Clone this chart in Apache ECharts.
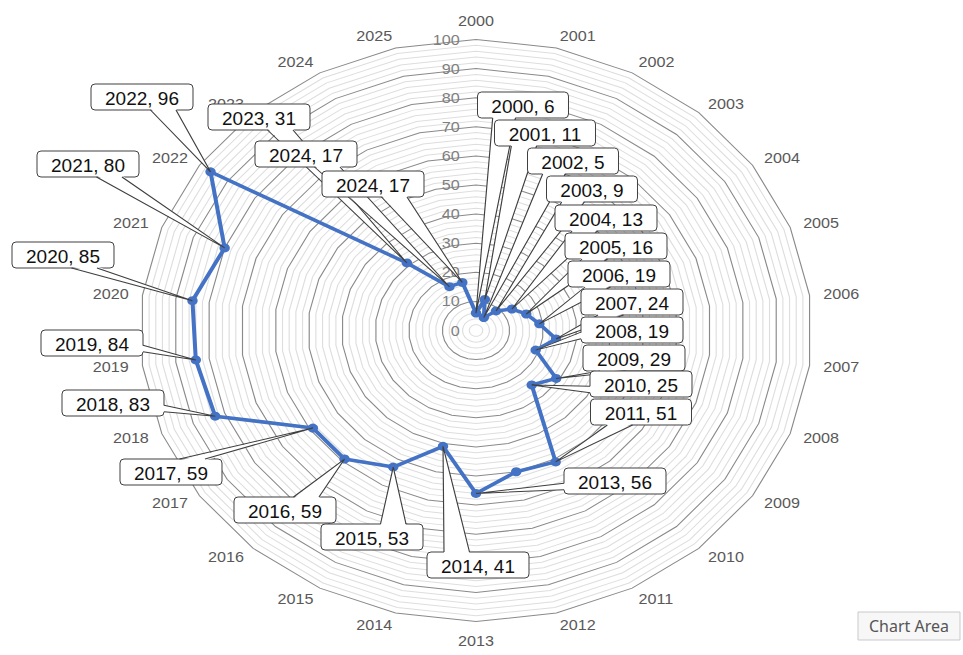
<!DOCTYPE html>
<html>
<head>
<meta charset="utf-8">
<script src="https://cdn.jsdelivr.net/npm/echarts@6/dist/echarts.min.js"></script>
<style>
  html, body { margin: 0; padding: 0; background: #fff; overflow: hidden; }
  #chart { position: absolute; left: 0; top: 0; height: 655px; transform-origin: 0 0; }
</style>
</head>
<body>
<div id="chart"></div>
<script>
// Category axis (one spoke per year, clockwise from the top)
const years = ['2000','2001','2002','2003','2004','2005','2006','2007','2008','2009',
               '2010','2011','2012','2013','2014','2015','2016','2017','2018','2019',
               '2020','2021','2022','2023','2024','2025'];
// Series values
const values = [6, 11, 5, 9, 13, 16, 19, 24, 19, 29, 25, 51, 50, 56, 41, 53, 59, 59, 83, 84, 85, 80, 96, 31, 17, 17];
// Year text printed in each callout (null = no callout)
const calloutYears = ['2000','2001','2002','2003','2004','2005','2006','2007','2008','2009',
                      '2010','2011', null,'2013','2014','2015','2016','2017','2018','2019',
                      '2020','2021','2022','2023','2024','2024'];
// Value axis range
const axisMin = 0, axisMax = 100, majorStep = 10, minorStep = 2;

// Callout box centres on the page
const calloutAt = [
  [523,105],[545,133],[573,161],[592,189],[606,218],[616,246],[619,274],[632,302],
  [632,330],[634,358],[641,384],[641,412], null,[615,481],[478,565],[372,537],
  [285,510],[171,472],[113,403],[92,343],[63,255],[88,164],[142,97],[259,117],
  [306,154],[373,184]
];

// The plot is drawn wider than tall
const S = 1.1547;
const el = document.getElementById('chart');
el.style.width = (963 / S) + 'px';
el.style.transform = 'scaleX(' + S + ')';

const FONT = '"Liberation Sans", Arial, sans-serif';
const BLUE = '#4472C4';
const centre = [476 / S, 330.5];
const R = 291;

// ECharts lays radar indicators counter-clockwise; reverse so years run clockwise
const order = [0].concat(years.slice(1).map((_, k) => years.length - 1 - k));

const chart = echarts.init(el, null, { renderer: 'svg' });

const ringColors = ['#8a8a8a'];
for (let k = 1; k < majorStep / minorStep; k++) ringColors.push('#dedede');

chart.setOption({
  animation: false,
  backgroundColor: '#ffffff',
  radar: [
    {
      indicator: order.map(i => ({ name: years[i], min: axisMin, max: axisMax })),
      center: centre,
      radius: R,
      startAngle: 90,
      shape: 'polygon',
      splitNumber: (axisMax - axisMin) / minorStep,
      nameGap: 12,
      axisName: { color: '#595959', fontSize: 14, fontFamily: FONT },
      axisLine: { show: false },
      axisTick: { show: false },
      axisLabel: { show: false },
      splitArea: { show: false },
      splitLine: { lineStyle: { color: ringColors, width: 1 } }
    },
    {
      indicator: [{ name: '', min: axisMin, max: axisMax }],
      center: centre,
      radius: R,
      startAngle: 90,
      splitNumber: (axisMax - axisMin) / majorStep,
      axisName: { show: false },
      axisLine: { show: false },
      axisTick: { show: false },
      splitArea: { show: false },
      splitLine: { show: false },
      axisLabel: { show: true, color: '#7f7f7f', fontSize: 14, fontFamily: FONT, margin: 14 }
    }
  ],
  series: [{
    type: 'radar',
    radarIndex: 0,
    symbol: 'circle',
    symbolSize: 9,
    lineStyle: { color: BLUE, width: 3.5 },
    itemStyle: { color: BLUE },
    data: [{ value: order.map(i => values[i]) }]
  }]
});

// Callouts with wedge pointers to each marker; each later callout sits over earlier ones
const meas = document.createElement('canvas').getContext('2d');
const CFONT = '19px ' + FONT;
meas.font = CFONT;
const pts = chart.getModel().getSeriesByIndex(0).getData().getItemLayout(0);
const tips = [];
order.forEach((yi, k) => { tips[yi] = [pts[k][0] * S, pts[k][1]]; });

const elements = [];
let layer = 100;
years.forEach((y, i) => {
  if (!calloutYears[i] || !calloutAt[i]) return;
  const txt = calloutYears[i] + ', ' + values[i];
  const w = Math.round(meas.measureText(txt).width) + 28, h = 26;
  const [bx, by] = calloutAt[i];
  const [tx, ty] = tips[i];
  const dx = tx - bx, dy = ty - by;
  let b1, b2, i1, i2;
  if (Math.abs(dy) >= Math.abs(dx) * h / w) {
    const ey = by + (dy > 0 ? h / 2 : -h / 2);
    const g1 = dx > 0 ? 7 : 2, g2 = dx > 0 ? 10 : 5;
    const x1 = bx - w / 2 + w * g1 / 12, x2 = bx - w / 2 + w * g2 / 12;
    b1 = [x1, ey]; b2 = [x2, ey];
    const iy = ey + (dy > 0 ? -1.5 : 1.5);
    i1 = [x1, iy]; i2 = [x2, iy];
  } else {
    const ex = bx + (dx > 0 ? w / 2 : -w / 2);
    const g1 = dy > 0 ? 7 : 2, g2 = dy > 0 ? 10 : 5;
    const y1 = by - h / 2 + h * g1 / 12, y2 = by - h / 2 + h * g2 / 12;
    b1 = [ex, y1]; b2 = [ex, y2];
    const ix = ex + (dx > 0 ? -1.5 : 1.5);
    i1 = [ix, y1]; i2 = [ix, y2];
  }
  const toChart = p => [p[0] / S, p[1]];
  const zBox = layer++, zText = layer++, zFill = layer++, zEdge = layer++;
  elements.push({
    type: 'group', x: bx / S, y: by, scaleX: 1 / S,
    children: [
      { type: 'rect', z: zBox, shape: { x: -w / 2, y: -h / 2, width: w, height: h, r: 4 },
        style: { fill: '#fff', stroke: '#3f3f3f', lineWidth: 1 } },
      { type: 'text', z: zText, x: 0, y: 1,
        style: { text: txt, font: CFONT, fill: '#111', align: 'center', verticalAlign: 'middle' } }
    ]
  });
  elements.push({ type: 'polygon', z: zFill, shape: { points: [i1, [tx, ty], i2].map(toChart) },
    style: { fill: '#fff', stroke: null } });
  elements.push({ type: 'polyline', z: zEdge, shape: { points: [b1, [tx, ty], b2].map(toChart) },
    style: { fill: null, stroke: '#3f3f3f', lineWidth: 1 } });
});

// Hover hint box in the lower right corner
const zHint = layer++;
elements.push({
  type: 'group', x: 858 / S, y: 612, scaleX: 1 / S,
  children: [
    { type: 'rect', z: zHint, shape: { x: 0, y: 0, width: 102, height: 28 },
      style: { fill: '#f7f7f7', stroke: '#c9c9c9', lineWidth: 1 } },
    { type: 'text', z: zHint + 1, x: 51, y: 14,
      style: { text: 'Chart Area', font: '16px "Noto Sans", sans-serif', fill: '#555', align: 'center', verticalAlign: 'middle' } }
  ]
});

chart.setOption({ graphic: { elements: elements } });
</script>
</body>
</html>
